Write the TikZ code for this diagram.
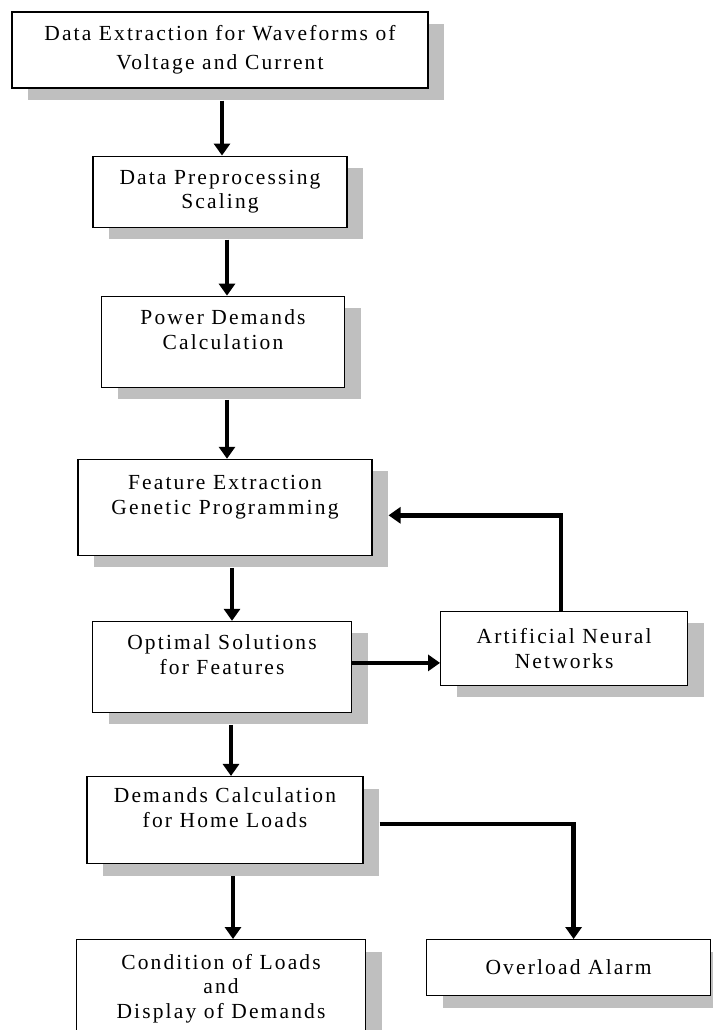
\documentclass[tikz,border=0pt]{standalone}
\usepackage{fontspec}
\setmainfont{Liberation Serif}[LetterSpace=10]
\usetikzlibrary{positioning,arrows.meta,shadows}

\begin{document}
\begin{tikzpicture}[
    x=1pt, y=1pt,
    node distance=68pt,
    box/.style={rectangle, draw, line width=1.1pt, fill=white, inner sep=0pt,
        drop shadow={shadow xshift=16pt, shadow yshift=-12pt, fill=black!25, opacity=1}},
    arrow/.style={-{Triangle[length=12pt, width=16pt]}, line width=4.5pt},
    every node/.style={align=center, font=\fontsize{21.5pt}{24.5pt}\selectfont}
]
\useasboundingbox (0,0) rectangle (712,-1030);

% Nodes
\node (extract) [box, minimum width=416pt, minimum height=76pt] at (220,-50)
    {Data Extraction for Waveforms of\\[4pt]Voltage and Current};

\node (prep) [box, minimum width=254pt, minimum height=71pt, below=67pt of extract]
    {Data Preprocessing\\Scaling};

\node (power) [box, minimum width=243pt, minimum height=91pt, below=68pt of prep, xshift=3pt]
    {Power Demands\\Calculation\\~};

\node (feature) [box, minimum width=294pt, minimum height=96pt, below=71pt of power, xshift=2pt]
    {Feature Extraction\\Genetic Programming\\~};

\node (optimal) [box, minimum width=259pt, minimum height=91pt, below=65pt of feature, xshift=-3pt]
    {Optimal Solutions\\for Features\\~};

\node (ann) [box, minimum width=247pt, minimum height=74pt, anchor=north west]
    at ([xshift=88pt, yshift=10pt]optimal.north east)
    {Artificial Neural\\Networks};

\node (demands) [box, minimum width=276pt, minimum height=87pt, below=63pt of optimal, xshift=3pt]
    {Demands Calculation\\for Home Loads\\~};

\node (display) [box, minimum width=289pt, minimum height=118pt, below=75pt of demands, xshift=-4pt]
    {Condition of Loads\\and\\Display of Demands\\~};

\node (alarm) [box, minimum width=284pt, minimum height=56pt, right=60pt of display.north east, anchor=north west]
    {Overload Alarm};

% Arrows
\draw [arrow] ([xshift=2pt, yshift=-12pt]extract.south) -- ([xshift=2pt]extract.south |- prep.north);
\draw [arrow] ([xshift=7pt, yshift=-12pt]prep.south) -- ([xshift=7pt]prep.south |- power.north);
\draw [arrow] ([xshift=4pt, yshift=-12pt]power.south) -- ([xshift=4pt]power.south |- feature.north);
\draw [arrow] ([xshift=7pt, yshift=-12pt]feature.south) -- ([xshift=7pt]feature.south |- optimal.north);
\draw [arrow] ([xshift=9pt, yshift=-12pt]optimal.south) -- ([xshift=9pt]optimal.south |- demands.north);
\draw [arrow] ([xshift=8pt, yshift=-12pt]demands.south) -- ([xshift=8pt]demands.south |- display.north);

% Side branches
\draw [arrow] ([yshift=4pt]optimal.east) -- ([yshift=4pt]optimal.east -| ann.west);
\draw [arrow] ([xshift=-3pt]ann.north) |- ([xshift=16pt, yshift=-8pt]feature.east);
\draw [arrow] ([xshift=16pt, yshift=-4pt]demands.east) -| ([xshift=5pt]alarm.north);

\end{tikzpicture}
\end{document}
